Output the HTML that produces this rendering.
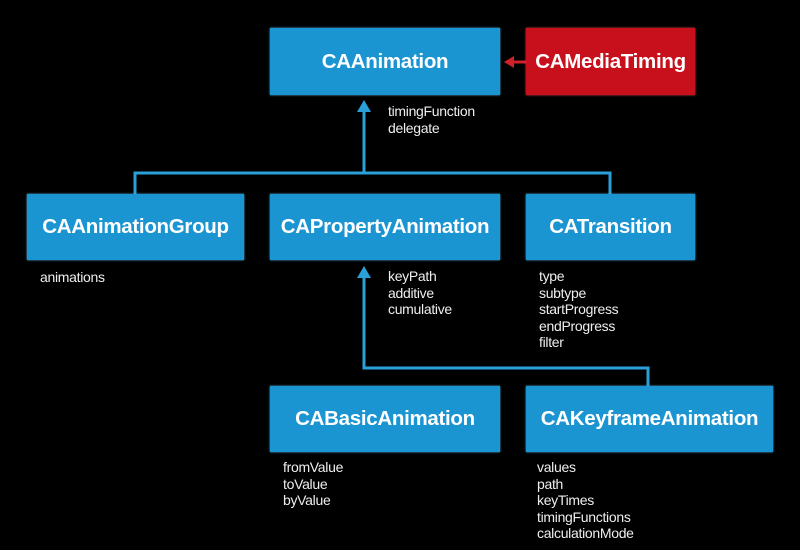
<!DOCTYPE html>
<html><head><meta charset="utf-8">
<style>
html,body{margin:0;padding:0;background:#000;}
#c{position:relative;width:800px;height:550px;background:#000;overflow:hidden;font-family:"Myriad Pro","Lucida Grande","Liberation Sans",sans-serif;}
.b{position:absolute;background:#1b94d2;color:#fff;font-weight:bold;font-size:20.5px;display:flex;align-items:center;justify-content:center;letter-spacing:-0.3px;box-shadow:0 0 2px #5bb8e8;}
.r{background:#c8101c;box-shadow:0 0 2px #e05050;}
.t{position:absolute;color:#eee;font-size:14px;line-height:16.5px;letter-spacing:-0.3px;}
svg{position:absolute;left:0;top:0;}
</style></head><body><div id="c">
<svg width="800" height="550">
<g stroke="#2a9fd8" stroke-width="3" fill="none">
<path d="M364 108 V173 M135 194 V173 H610 V194"/>
<path d="M364 274 V368 H648 V386"/>
</g>
<polygon points="364,100 357,112 371,112" fill="#2a9fd8"/>
<polygon points="364,266 357,278 371,278" fill="#2a9fd8"/>
<line x1="512" y1="62" x2="526" y2="62" stroke="#d02028" stroke-width="3"/>
<polygon points="504,62 514,56 514,68" fill="#d02028"/>
</svg>
<div class="b" style="left:270px;top:28px;width:230px;height:67px;">CAAnimation</div>
<div class="b r" style="left:526px;top:28px;width:169px;height:67px;">CAMediaTiming</div>
<div class="b" style="left:27px;top:194px;width:217px;height:66px;">CAAnimationGroup</div>
<div class="b" style="left:270px;top:194px;width:230px;height:66px;">CAPropertyAnimation</div>
<div class="b" style="left:526px;top:194px;width:169px;height:66px;">CATransition</div>
<div class="b" style="left:270px;top:386px;width:230px;height:66px;">CABasicAnimation</div>
<div class="b" style="left:526px;top:386px;width:247px;height:66px;">CAKeyframeAnimation</div>
<div class="t" style="left:388px;top:103px;">timingFunction<br>delegate</div>
<div class="t" style="left:40px;top:269px;">animations</div>
<div class="t" style="left:388px;top:268px;">keyPath<br>additive<br>cumulative</div>
<div class="t" style="left:539px;top:268px;">type<br>subtype<br>startProgress<br>endProgress<br>filter</div>
<div class="t" style="left:283px;top:459px;">fromValue<br>toValue<br>byValue</div>
<div class="t" style="left:537px;top:459px;">values<br>path<br>keyTimes<br>timingFunctions<br>calculationMode</div>
</div></body></html>
